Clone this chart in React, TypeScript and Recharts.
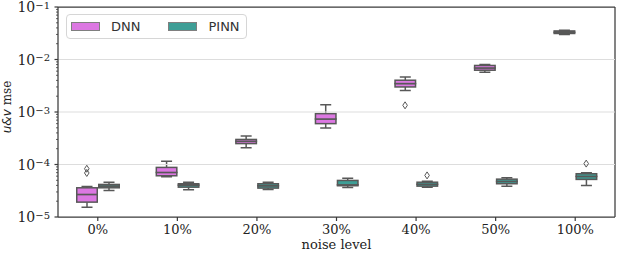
import React from 'react';
import { ComposedChart, Bar, Scatter, XAxis, YAxis, ReferenceLine, CartesianGrid, Legend, Label } from 'recharts';

const noiseLevels = ['0%', '10%', '20%', '30%', '40%', '50%', '100%'];

// DNN box stats
const dnnMin = [1.54e-5, 5.85e-5, 2.09e-4, 4.95e-4, 2.56e-3, 5.7e-3, 3.0e-2];
const dnnQ1 = [1.92e-5, 6.1e-5, 2.5e-4, 6.0e-4, 3.0e-3, 6.25e-3, 3.13e-2];
const dnnMedian = [2.69e-5, 7.06e-5, 2.76e-4, 7.35e-4, 3.48e-3, 6.9e-3, 3.29e-2];
const dnnQ3 = [3.6e-5, 8.8e-5, 3.0e-4, 9.3e-4, 4.03e-3, 7.7e-3, 3.5e-2];
const dnnMax = [3.82e-5, 1.15e-4, 3.48e-4, 1.38e-3, 4.66e-3, 8.0e-3, 3.62e-2];
const dnnOutliers = [[8.3e-5, 6.9e-5], [], [], [], [1.34e-3], [], []];

// PINN box stats
const pinnMin = [3.2e-5, 3.3e-5, 3.35e-5, 3.66e-5, 3.7e-5, 3.87e-5, 3.99e-5];
const pinnQ1 = [3.6e-5, 3.7e-5, 3.55e-5, 3.94e-5, 3.87e-5, 4.3e-5, 5.2e-5];
const pinnMedian = [3.87e-5, 4.05e-5, 3.94e-5, 4.1e-5, 4.2e-5, 4.76e-5, 5.93e-5];
const pinnQ3 = [4.17e-5, 4.3e-5, 4.3e-5, 4.97e-5, 4.6e-5, 5.26e-5, 6.67e-5];
const pinnMax = [4.6e-5, 4.6e-5, 4.6e-5, 5.5e-5, 4.8e-5, 5.6e-5, 6.97e-5];
const pinnOutliers = [[], [], [], [], [6.2e-5], [], [1.04e-4]];

const majorTicks = [1e-5, 1e-4, 1e-3, 1e-2, 1e-1];
const minorSteps = [2, 3, 4, 5, 6, 7, 8, 9];
const yTicks = [
  ...majorTicks,
  ...majorTicks.slice(0, -1).flatMap((d) => minorSteps.map((m) => m * d)),
];

const EDGE = '#585858';
const AXIS = '#3a3a3a';
const BOX_W = 22;

const groups = [
  { key: 'dnn', name: 'DNN', color: '#dc78e2', min: dnnMin, q1: dnnQ1, med: dnnMedian, q3: dnnQ3, max: dnnMax, out: dnnOutliers, dx: -BOX_W / 2 },
  { key: 'pinn', name: 'PINN', color: '#3e9e96', min: pinnMin, q1: pinnQ1, med: pinnMedian, q3: pinnQ3, max: pinnMax, out: pinnOutliers, dx: BOX_W / 2 },
];

const maxOut = Math.max(...groups.flatMap((g) => g.out.map((o) => o.length)));
const outSlots = Array.from({ length: maxOut }, (_, i) => i);

const rows = noiseLevels.map((noise, i) => {
  const row: any = { noise };
  groups.forEach((g) => {
    row[g.key + 'LowW'] = [g.min[i], g.q1[i]];
    row[g.key + 'LowBox'] = [g.q1[i], g.med[i]];
    row[g.key + 'UpBox'] = [g.med[i], g.q3[i]];
    row[g.key + 'UpW'] = [g.q3[i], g.max[i]];
    outSlots.forEach((s) => {
      row[g.key + 'Out' + s] = g.out[i][s];
    });
  });
  return row;
});

const norm = (p: any) => {
  const top = Math.min(p.y, p.y + p.height);
  return { x: p.x, w: p.width, top, h: Math.abs(p.height) };
};

const boxShape = (color: string) => (props: any) => {
  const { x, w, top, h } = norm(props);
  if (!Number.isFinite(top)) return <g />;
  return (
    <rect x={x + 0.75} y={top} width={w - 1.5} height={h} fill={color} stroke={EDGE} strokeWidth={1.5} />
  );
};

const whiskerShape = (end: 'top' | 'bottom') => (props: any) => {
  const { x, w, top, h } = norm(props);
  if (!Number.isFinite(top)) return <g />;
  const cx = x + w / 2;
  const capY = end === 'top' ? top : top + h;
  return (
    <g stroke={EDGE} strokeWidth={1.5}>
      <line x1={cx} x2={cx} y1={top} y2={top + h} />
      <line x1={cx - w / 4} x2={cx + w / 4} y1={capY} y2={capY} />
    </g>
  );
};

const flierShape = (dx: number) => (props: any) => {
  const { cx, cy } = props;
  if (!Number.isFinite(cx) || !Number.isFinite(cy)) return <g />;
  const x = cx + dx;
  return (
    <path
      d={`M${x},${cy - 3.5}L${x + 2.3},${cy}L${x},${cy + 3.5}L${x - 2.3},${cy}Z`}
      fill="none"
      stroke={EDGE}
      strokeWidth={1}
    />
  );
};

const parts = [
  { axis: 'lw', suffix: 'LowW', shape: (g: any) => whiskerShape('bottom') },
  { axis: 'uw', suffix: 'UpW', shape: (g: any) => whiskerShape('top') },
  { axis: 'main', suffix: 'LowBox', shape: (g: any) => boxShape(g.color) },
  { axis: 'ub', suffix: 'UpBox', shape: (g: any) => boxShape(g.color) },
];

const LogTick = (props: any) => {
  const { x, y, payload } = props;
  const lg = Math.log10(payload.value);
  const exp = Math.round(lg);
  const major = Math.abs(lg - exp) < 1e-6;
  return (
    <g>
      <line x1={x} x2={x - (major ? 3.5 : 2)} y1={y} y2={y} stroke={AXIS} strokeWidth={major ? 1.2 : 0.8} />
      {major && (
        <text x={x - 8} y={y + 5} textAnchor="end" fontSize={14} fill="#222" fontFamily="DejaVu Serif">
          <tspan>10</tspan>
          <tspan dy={-3.5} fontSize={10}>{'\u2212' + Math.abs(exp)}</tspan>
        </text>
      )}
    </g>
  );
};

const renderLegend = () => (
  <div
    style={{
      display: 'flex',
      alignItems: 'center',
      boxSizing: 'border-box',
      width: 181,
      height: 25,
      paddingLeft: 4,
      border: '1px solid #d6d6d6',
      borderRadius: 4,
      background: 'rgba(255,255,255,0.8)',
      fontFamily: 'DejaVu Sans',
      fontSize: 13,
      color: '#333',
    }}
  >
    {groups.map((g) => (
      <div key={g.key} style={{ display: 'flex', alignItems: 'center', marginRight: 28 }}>
        <span
          style={{
            display: 'inline-block',
            boxSizing: 'border-box',
            width: 29,
            height: 9,
            background: g.color,
            border: '1px solid #7f7f7f',
            marginRight: 11,
          }}
        />
        <span>{g.name}</span>
      </div>
    ))}
  </div>
);

const YLabel = (props: any) => {
  const vb = props.viewBox;
  const cx = vb.x + 11;
  const cy = vb.y + vb.height / 2 - 5;
  return (
    <text transform={`translate(${cx},${cy}) rotate(-90)`} textAnchor="middle" fontSize={12} fill="#222">
      <tspan fontFamily="DejaVu Sans" fontStyle="italic">{'u&v'}</tspan>
      <tspan fontFamily="DejaVu Serif">{' mse'}</tspan>
    </text>
  );
};

// frame: top and right spines placed at the plot-area edges
const topSpine = ({ offset }: any) => [offset.top];
const rightSpine = ({ offset }: any) => [offset.left + offset.width];

export default function App() {
  return (
    <div style={{ position: 'absolute', left: 0, top: 0 }}>
      <ComposedChart
        width={618}
        height={254}
        data={rows}
        margin={{ top: 7, right: 3, bottom: 0, left: 0 }}
        barGap={0}
        barSize={BOX_W}
        style={{ fontFamily: 'DejaVu Serif' }}
      >
        <CartesianGrid
          xAxisId="main"
          horizontalCoordinatesGenerator={topSpine}
          verticalCoordinatesGenerator={rightSpine}
          stroke={AXIS}
          strokeWidth={1.25}
          strokeDasharray=""
        />
        {[1e-4, 1e-3, 1e-2].map((v) => (
          <ReferenceLine key={v} y={v} xAxisId="main" stroke="#dddddd" strokeWidth={1} />
        ))}
        <XAxis
          xAxisId="main"
          dataKey="noise"
          interval={0}
          height={37}
          tickSize={4}
          tickMargin={4}
          tickLine={{ stroke: AXIS, strokeWidth: 1.2 }}
          axisLine={{ stroke: AXIS, strokeWidth: 1.25 }}
          tick={{ fill: '#222', fontSize: 13, fontFamily: 'DejaVu Serif' }}
        >
          <Label value="noise level" position="insideBottom" offset={5} fontSize={13} fill="#222" fontFamily="DejaVu Serif" />
        </XAxis>
        <XAxis xAxisId="lw" dataKey="noise" hide height={0} />
        <XAxis xAxisId="uw" dataKey="noise" hide height={0} />
        <XAxis xAxisId="ub" dataKey="noise" hide height={0} />
        <YAxis
          scale="log"
          domain={[1e-5, 1e-1]}
          allowDataOverflow
          ticks={yTicks}
          interval={0}
          width={58}
          tickSize={0}
          tickMargin={0}
          tickLine={false}
          tick={<LogTick />}
          axisLine={{ stroke: AXIS, strokeWidth: 1.25 }}
        >
          <Label content={<YLabel />} />
        </YAxis>
        {parts.map((p) =>
          groups.map((g) => (
            <Bar
              key={p.suffix + g.key}
              xAxisId={p.axis}
              dataKey={g.key + p.suffix}
              shape={p.shape(g)}
              isAnimationActive={false}
              legendType="none"
            />
          ))
        )}
        {groups.map((g) =>
          outSlots.map((s) => (
            <Scatter
              key={g.key + 'out' + s}
              xAxisId="main"
              dataKey={g.key + 'Out' + s}
              shape={flierShape(g.dx)}
              isAnimationActive={false}
              legendType="none"
            />
          ))
        )}
        <Legend
          layout="vertical"
          align="center"
          verticalAlign="middle"
          wrapperStyle={{ left: 66, top: 14, width: 181 }}
          content={renderLegend}
        />
      </ComposedChart>
    </div>
  );
}
